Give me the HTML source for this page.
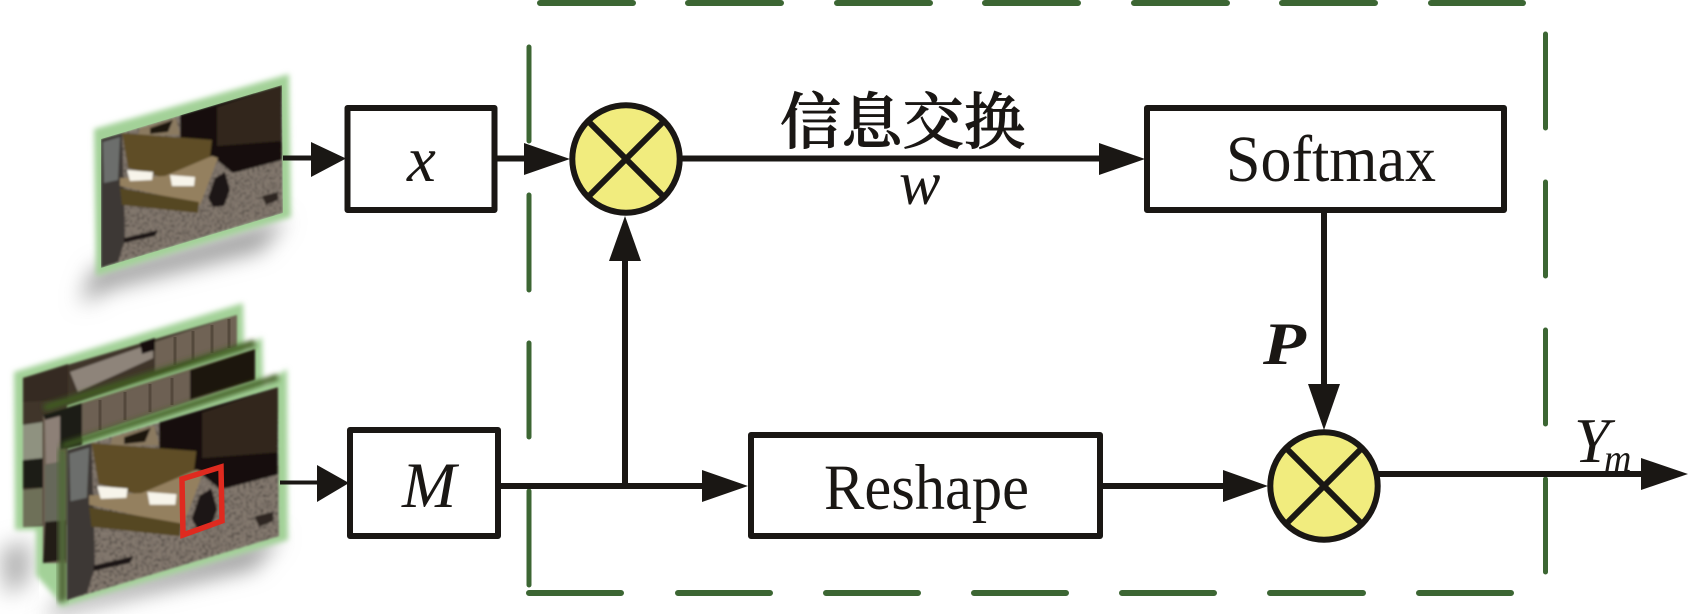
<!DOCTYPE html>
<html lang="zh">
<head>
<meta charset="utf-8">
<title>信息交换</title>
<style>
html,body{margin:0;padding:0;background:#fff;width:1689px;height:614px;overflow:hidden}
svg{display:block}
text{fill:#1a1714;font-family:"Liberation Serif","Noto Serif CJK SC",serif}
</style>
</head>
<body>
<svg width="1689" height="614" viewBox="0 0 1689 614" xmlns="http://www.w3.org/2000/svg">
<defs>
<filter id="b1" x="-20%" y="-20%" width="140%" height="140%"><feGaussianBlur stdDeviation="2.6"/></filter>
<filter id="b0" x="-10%" y="-10%" width="120%" height="120%"><feGaussianBlur stdDeviation="1"/></filter>
<filter id="b3" x="-30%" y="-30%" width="160%" height="160%"><feGaussianBlur stdDeviation="3.5"/></filter>
<filter id="b2" x="-30%" y="-80%" width="160%" height="260%"><feGaussianBlur stdDeviation="11"/></filter>
<filter id="grav" x="0" y="0" width="100%" height="100%">
<feTurbulence type="fractalNoise" baseFrequency="0.4" numOctaves="2" seed="4" result="n"/>
<feColorMatrix in="n" type="matrix" values="1.9 0 0 0 -0.1 1.9 0 0 0 -0.1 1.9 0 0 0 -0.1 0 0 0 0 1" result="g"/>
<feBlend in="SourceGraphic" in2="g" mode="multiply" result="m"/>
<feComposite in="m" in2="SourceAlpha" operator="in"/>
</filter>
<clipPath id="c1"><polygon points="101,139 282,85 283,213 101,268"/></clipPath>
<g id="scene">
<polygon points="101,139 282,85 283,213 101,268" fill="#857a70" filter="url(#grav)"/>
<polygon points="180,115 282,85 282,160 233,173 213,157 180,160" fill="#17100b"/>
<polygon points="217,107 282,85 282,141 217,146" fill="#33251b"/>
<polygon points="140,128 176,118 180,135 138,135" fill="#8b7a60"/>
<polygon points="150,128 173,120 168,132 150,134" fill="#1c1410"/>
<polygon points="101,139 122,133 124,190 125,240 118,262 101,268" fill="#3e3935"/>
<polygon points="103,142 120,137 118,180 104,183" fill="#6c6e6c"/>
<polygon points="122,133 212,140 208,173 165,178 128,168" fill="#5e4e27"/>
<polygon points="120,178 165,176 212,156 218,158 200,205 160,195 120,186" fill="#94805f"/>
<polygon points="120,188 199,202 198,213 122,205" fill="#544622"/>
<polygon points="127,170 153,172 152,180 130,181" fill="#f7f4ea"/>
<polygon points="170,175 195,177 194,186 172,186" fill="#f7f4ea"/>
<polygon points="215,178 225,172 230,190 224,206 213,207 208,198" fill="#1b1512"/>
<polygon points="124,238 158,230 155,236 124,243" fill="#1f1915"/>
<polygon points="262,196 278,192 278,200 266,205" fill="#2d2723"/>
</g>
</defs>

<rect width="1689" height="614" fill="#fff"/>

<!-- shadows -->
<polygon points="93,270 287,218 262,250 110,288 80,304" fill="#9a9a9a" filter="url(#b2)"/>
<polygon points="60,600 282,534 255,568 70,610 44,622" fill="#9a9a9a" filter="url(#b2)"/>
<polygon points="0,550 30,540 30,580 6,596" fill="#b0b0b0" filter="url(#b2)"/>

<!-- single image -->
<polygon points="94,129 289,74 291,217 96,276" fill="#a3d198" filter="url(#b1)"/>
<g clip-path="url(#c1)" filter="url(#b0)"><use href="#scene"/></g>

<!-- stack outer green halo -->
<polygon points="14,372 243,303 244,350 262,337 263,385 287,369 288,540 60,607 58,600 36,575 36,530 15,530" fill="#a3d198" filter="url(#b1)"/>

<!-- stack: back -->
<g filter="url(#b0)">
<polygon points="23,378 237,315 237,347 67,405 67,525 23,527" fill="#40362b"/>
<polygon points="155,342 237,315 237,347 155,372" fill="#6f6354"/>
<polygon points="70,372 153,343 153,358 78,392" fill="#8e847a"/>
<polygon points="140,343 155,338 155,350 142,354" fill="#17100c"/>
<polygon points="23,378 68,364 68,400 23,402" fill="#362c23"/>
<polygon points="23,425 43,422 43,460 23,460" fill="#8f9280"/>
<polygon points="23,460 43,458 43,488 23,488" fill="#1f1d16"/>
<polygon points="23,490 43,488 43,525 23,527" fill="#6e7058"/>
</g>
<g stroke="#4e4337" stroke-width="3" opacity=".8"><line x1="175" y1="337" x2="175" y2="365"/><line x1="193" y1="331" x2="193" y2="360"/><line x1="212" y1="325" x2="212" y2="353"/><line x1="229" y1="319" x2="229" y2="348"/></g>

<!-- stack: middle -->
<g filter="url(#b0)">
<polygon points="43,415 255,349 255,380 67,442 67,563 43,563" fill="#6d6152"/>
<polygon points="190,370 255,349 255,380 190,400" fill="#1b130d"/>
<polygon points="43,415 82,403 82,445 60,450" fill="#1e1a15"/>
<polygon points="45,420 60,416 60,462 46,464" fill="#8d8077"/>
<polygon points="45,465 66,460 66,520 45,522" fill="#66685a"/>
<polygon points="45,522 66,520 66,560 43,563" fill="#241e18"/>
</g>
<g stroke="#4e4337" stroke-width="3" opacity=".8"><line x1="100" y1="400" x2="100" y2="430"/><line x1="125" y1="392" x2="125" y2="420"/><line x1="150" y1="384" x2="150" y2="412"/><line x1="172" y1="378" x2="172" y2="405"/></g>
<line x1="44" y1="408" x2="255" y2="343" stroke="#3f5c22" stroke-width="7" filter="url(#b1)"/>

<!-- stack: front -->
<polygon points="58,448 67,450 67,600 58,603" fill="#53693a" filter="url(#b1)"/>
<line x1="62" y1="446" x2="278" y2="377" stroke="#3f5c22" stroke-width="6" filter="url(#b1)"/>
<g filter="url(#b0)">
<g transform="translate(67,450) scale(1.165) translate(-101,-139)" clip-path="url(#c1)"><use href="#scene"/></g>
</g>
<polygon points="182,479 221,467 222,521 183,535" fill="none" stroke="#df2a1f" stroke-width="5.5"/>

<!-- dashed frame -->
<g stroke="#3c6633" stroke-width="6" stroke-linecap="round" fill="none">
<path d="M540 3H633M688 3H781M837 3H930M985 3H1078M1134 3H1227M1282 3H1375M1431 3H1523"/>
<path d="M529 593H621M678 593H770M826 593H918M974 593H1066M1122 593H1214M1270 593H1363M1419 593H1511"/>
</g>
<g stroke="#3c6633" stroke-width="5" stroke-linecap="round" fill="none">
<path d="M529 47V141M529 195V290M529 343V437M529 491V585"/>
<path d="M1545.5 34V128M1545.5 182V276M1545.5 330V424M1545.5 479V572"/>
</g>

<!-- connectors -->
<g stroke="#1a1714" stroke-width="6" fill="none">
<path d="M283 158H315" stroke-width="5"/>
<path d="M280 482.5H320" stroke-width="4"/>
<path d="M497 158.5H530"/>
<path d="M680 158.5H1102"/>
<path d="M1324 212V388"/>
<path d="M501 486H706"/>
<path d="M625 486V258"/>
<path d="M1103 486H1226"/>
<path d="M1378 474H1645"/>
</g>
<g fill="#1a1714">
<polygon points="311,142 346,158.5 311,177"/>
<polygon points="317,465 349,483 317,502"/>
<polygon points="524,143 570,159 524,175"/>
<polygon points="1099,143 1145,159 1099,175"/>
<polygon points="609,261 625,216 641,261"/>
<polygon points="1308,384 1340,384 1324,430"/>
<polygon points="702,470 748,486 702,502"/>
<polygon points="1223,470 1268,486 1223,502"/>
<polygon points="1641,458 1688,474 1641,490"/>
</g>

<!-- boxes -->
<g fill="#fff" stroke="#1a1714" stroke-width="6" stroke-linejoin="round">
<rect x="347.5" y="108" width="147" height="102"/>
<rect x="350" y="430" width="148" height="106"/>
<rect x="1147" y="108" width="357" height="102"/>
<rect x="751" y="435" width="349" height="101"/>
</g>

<!-- multipliers -->
<g fill="#f1ec7e" stroke="#1a1714" stroke-width="6">
<circle cx="626" cy="159" r="53.7"/>
<path d="M589 122L663 196M663 122L589 196" fill="none"/>
<circle cx="1324" cy="486" r="53.7"/>
<path d="M1287 449L1361 523M1361 449L1287 523" fill="none"/>
</g>

<!-- labels -->
<text x="407" y="181" font-size="65" font-style="italic">x</text>
<text x="402" y="507" font-size="65" font-style="italic">M</text>
<text x="1226" y="181" font-size="66" textLength="210" lengthAdjust="spacingAndGlyphs">Softmax</text>
<text x="824" y="509" font-size="65" textLength="205" lengthAdjust="spacingAndGlyphs">Reshape</text>
<text x="780" y="143" font-size="61" textLength="245" stroke="#1a1714" stroke-width="1.1" style="font-family:'Noto Serif CJK SC',serif;font-weight:500">信息交换</text>
<text x="899" y="204" font-size="62" font-style="italic">w</text>
<text x="1263" y="364" font-size="60" font-style="italic" font-weight="bold" textLength="43" lengthAdjust="spacingAndGlyphs">P</text>
<text x="1574" y="462" font-size="64" font-style="italic">Y</text>
<text x="1604" y="471" font-size="38" font-style="italic">m</text>
</svg>
</body>
</html>
